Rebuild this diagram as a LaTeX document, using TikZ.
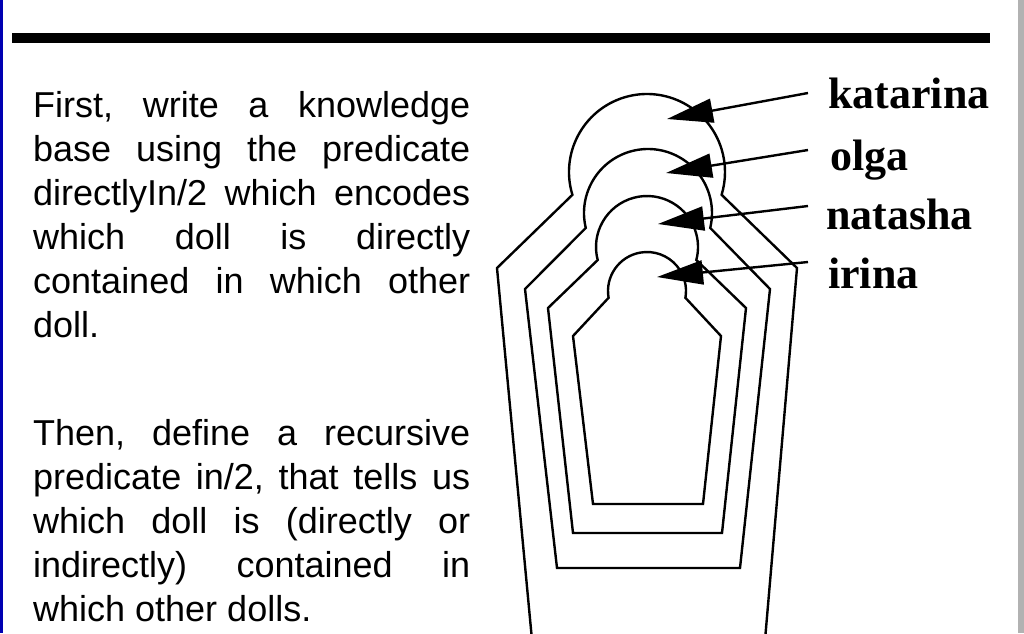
\documentclass[tikz,border=0pt]{standalone}
\usepackage{fontspec}
\setmainfont{Liberation Sans}
\newfontfamily\tms{Liberation Serif}
\usetikzlibrary{arrows.meta}
\begin{document}
\begin{tikzpicture}[x=1pt,y=-1pt,
  doll/.style={line width=2.4pt,line join=miter},
  lbl/.style={font=\tms\bfseries\fontsize{44}{44}\selectfont,anchor=base west,inner sep=0pt},
  ptr/.style={line width=2.4pt,-{Triangle[length=46pt,width=24pt]}},
  txt/.style={font=\fontsize{36}{36}\selectfont,anchor=base west,inner sep=0pt}]
\useasboundingbox (0,0) rectangle (1024,633);
\fill[white] (0,0) rectangle (1024,633);
\fill[blue!70!black] (0,0) rectangle (3,633);
\fill[gray!60] (1018,0) rectangle (1024,633);
\fill[black] (12,33) rectangle (990,43);
\begin{scope}
\clip (0,0) rectangle (1024,633);
% katarina
\coordinate (ck) at (647,172);
\draw[doll] (532,640) -- (497,268) -- ([shift={(197:78pt)}]ck) arc[start angle=197,end angle=-17,radius=78pt] -- (797,268) -- (765,640);
% olga
\coordinate (co) at (648,213);
\draw[doll] (557,568) -- (525,289) -- ([shift={(193.5:64pt)}]co) arc[start angle=193.5,end angle=-13.5,radius=64pt] -- (770,289) -- (740,568) -- cycle;
% natasha
\coordinate (cn) at (647,247);
\draw[doll] (573,533) -- (548,308) -- ([shift={(194.8:51pt)}]cn) arc[start angle=194.8,end angle=-14.8,radius=51pt] -- (746,308) -- (722,533) -- cycle;
% irina
\coordinate (ci) at (647,291);
\draw[doll] (593,504) -- (573,336) -- ([shift={(190:39pt)}]ci) arc[start angle=190,end angle=-10,radius=39pt] -- (721,336) -- (703,504) -- cycle;
\end{scope}
\node[lbl] (lk) at (828,108) {katarina};
\node[lbl] (lo) at (830,170) {olga};
\node[lbl] (ln) at (826,229) {natasha};
\node[lbl] (li) at (828,288) {irina};
\coordinate (tk) at (667,119);
\coordinate (to) at (666,173);
\coordinate (tn) at (658,224);
\coordinate (ti) at (657,277);
\draw[ptr] (808,93) -- (tk);
\draw[ptr] (808,150) -- (to);
\draw[ptr] (808,206) -- (tn);
\draw[ptr] (808,262) -- (ti);
\def\W{437pt}
\node[txt] (a1) at (33,117) {\hbox to \W{First,\hfill write\hfill a\hfill knowledge}};
\node[txt] (a2) at (33,161) {\hbox to \W{base\hfill using\hfill the\hfill predicate}};
\node[txt] (a3) at (33,205) {\hbox to \W{directlyIn/2\hfill which\hfill encodes}};
\node[txt] (a4) at (33,249) {\hbox to \W{which\hfill doll\hfill is\hfill directly}};
\node[txt] (a5) at (33,293) {\hbox to \W{contained\hfill in\hfill which\hfill other}};
\node[txt] (a6) at (33,337) {doll.};
\node[txt] (b1) at (33,445) {\hbox to \W{Then,\hfill define\hfill a\hfill recursive}};
\node[txt] (b2) at (33,489) {\hbox to \W{predicate\hfill in/2,\hfill that\hfill tells\hfill us}};
\node[txt] (b3) at (33,533) {\hbox to \W{which\hfill doll\hfill is\hfill (directly\hfill or}};
\node[txt] (b4) at (33,577) {\hbox to \W{indirectly)\hfill contained\hfill in}};
\node[txt] (b5) at (33,621) {which other dolls.};
\end{tikzpicture}
\end{document}
